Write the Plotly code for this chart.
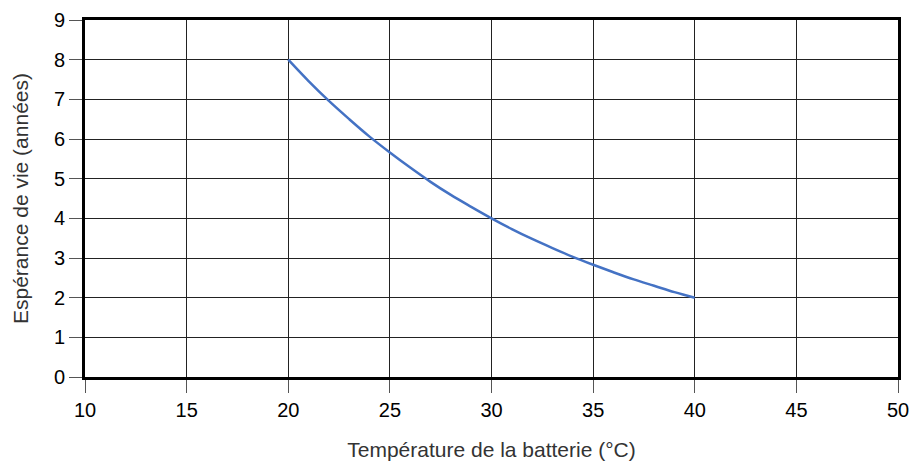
import plotly.graph_objects as go

temperature = [20, 21, 22, 23, 24, 25, 26, 27, 28, 29, 30, 31, 32, 33, 34, 35, 36, 37, 38, 39, 40]
life_years = [8.0, 7.46, 6.96, 6.5, 6.06, 5.66, 5.28, 4.92, 4.59, 4.29, 4.0, 3.73, 3.48, 3.25, 3.03, 2.83, 2.64, 2.46, 2.30, 2.14, 2.0]
x_ticks = [10, 15, 20, 25, 30, 35, 40, 45, 50]
y_ticks = [0, 1, 2, 3, 4, 5, 6, 7, 8, 9]

fig = go.Figure()
fig.add_trace(go.Scatter(x=temperature, y=life_years, mode="lines", line_shape="spline",
                         line=dict(color="#4472C4", width=2.5), showlegend=False))

font = dict(family="Liberation Sans, Arial, sans-serif", size=20, color="#000000")
title_font = dict(family="Liberation Sans, Arial, sans-serif", size=21, color="#333333")
fig.update_layout(
    width=911, height=461,
    margin=dict(l=84.5, r=13, t=19.5, b=83.5),
    paper_bgcolor="white", plot_bgcolor="white",
    font=font,
    xaxis=dict(range=[10, 50], tickvals=x_ticks, showgrid=True, gridcolor="#222222", gridwidth=1,
               showline=True, linecolor="black", linewidth=3, mirror=True,
               ticks="outside", ticklen=13, tickcolor="#555555", tickwidth=1,
               zeroline=False, automargin=False,
               title=dict(text="Température de la batterie (°C)", font=title_font, standoff=23)),
    yaxis=dict(range=[0, 9], tickvals=y_ticks, showgrid=True, gridcolor="#222222", gridwidth=1,
               showline=True, linecolor="black", linewidth=3, mirror=True,
               ticks="outside", ticklen=13, tickcolor="#555555", tickwidth=1,
               zeroline=False, automargin=False,
               title=dict(text="Espérance de vie (années)", font=title_font, standoff=20)),
)
fig.write_html("out.html", config={"displayModeBar": False},
               post_script="document.body.style.margin='0';document.body.style.overflow='hidden';")
